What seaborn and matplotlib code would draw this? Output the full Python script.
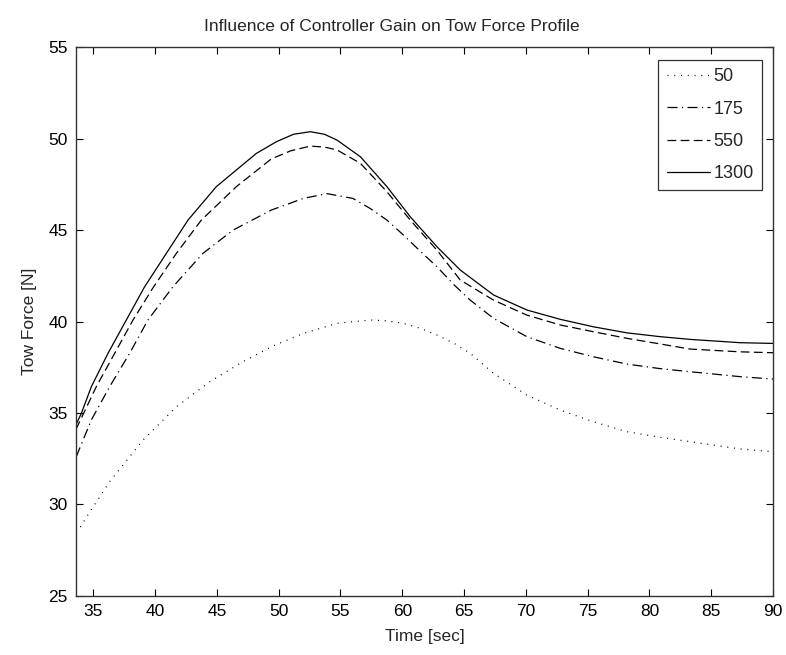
import matplotlib
matplotlib.use("Agg")
import matplotlib.pyplot as plt
import seaborn as sns
import pandas as pd

# ---- data ----
gains = ["50", "175", "550", "1300"]

t_50 = [33.95, 34.5, 36.32, 39.02, 41.72, 44.41, 47.11, 49.5, 52.0, 54.72, 57.4, 58.76,
        60.1, 61.5, 62.8, 64.2, 65.5, 67.39, 70.08, 72.78, 75.47, 78.17, 80.87, 83.31,
        87.35, 90.0]
f_50 = [28.75, 29.35, 31.23, 33.51, 35.33, 36.70, 37.80, 38.65, 39.35, 39.9, 40.08, 40.04,
        39.9, 39.62, 39.26, 38.8, 38.26, 37.16, 35.97, 35.15, 34.51, 33.97, 33.66, 33.42,
        33.02, 32.87]

t_175 = [33.62, 34.84, 36.32, 37.94, 39.42, 41.44, 43.87, 46.30, 49.4, 52.0, 53.9, 56.0,
         57.4, 58.76, 60.1, 61.5, 62.8, 64.2, 65.5, 67.39, 70.08, 72.78, 75.47, 78.17,
         80.87, 83.31, 87.35, 90.0]
f_175 = [32.6, 34.61, 36.43, 38.26, 40.08, 41.90, 43.73, 45.0, 46.1, 46.74, 47.0, 46.74,
         46.19, 45.55, 44.73, 43.82, 43.0, 42.0, 41.17, 40.17, 39.17, 38.53, 38.07, 37.67,
         37.42, 37.25, 36.98, 36.85]

t_550 = [33.6, 35.24, 36.73, 38.21, 39.88, 41.72, 43.74, 46.57, 49.4, 51.0, 52.56, 53.7,
         54.72, 56.61, 58.76, 60.65, 62.81, 64.69, 67.39, 70.08, 72.78, 75.47, 78.17,
         80.87, 83.31, 87.35, 90.0]
f_550 = [34.1, 36.43, 38.26, 40.08, 41.90, 43.73, 45.55, 47.38, 48.9, 49.35, 49.6, 49.55,
         49.39, 48.66, 47.1, 45.55, 43.9, 42.27, 41.17, 40.35, 39.81, 39.44, 39.08,
         38.77, 38.49, 38.34, 38.29]

t_1300 = [33.6, 34.03, 34.84, 36.19, 37.67, 39.15, 40.91, 42.66, 44.95, 48.19, 49.81, 51.2,
          52.56, 53.7, 54.72, 56.61, 58.76, 60.65, 62.81, 64.69, 67.39, 70.08, 72.78,
          75.47, 78.17, 80.87, 83.31, 87.35, 90.0]
f_1300 = [34.35, 34.97, 36.43, 38.26, 40.08, 41.90, 43.73, 45.55, 47.38, 49.20, 49.84, 50.25,
          50.39, 50.25, 49.93, 49.02, 47.38, 45.73, 44.09, 42.82, 41.45, 40.63, 40.12,
          39.71, 39.38, 39.17, 39.02, 38.84, 38.8]

x_ticks = [35, 40, 45, 50, 55, 60, 65, 70, 75, 80, 85, 90]
y_ticks = [25, 30, 35, 40, 45, 50, 55]

series = {"50": (t_50, f_50), "175": (t_175, f_175),
          "550": (t_550, f_550), "1300": (t_1300, f_1300)}

# ---- styling ----
sns.set_theme(style="ticks")
plt.rcParams["font.family"] = ["Liberation Sans", "DejaVu Sans"]
FS = 12.5
plt.rcParams["font.size"] = FS

dash_styles = {
    "50": (0, (0.8, 4.6)),
    "175": (0, (8, 3.5, 1, 3.5)),
    "550": (0, (7, 3.5)),
    "1300": "-",
}

fig = plt.figure(figsize=(7.86, 6.55), dpi=100)
ax = fig.add_axes([0.0967, 0.0908, 0.8868, 0.8367])

for g in gains:
    t, f = series[g]
    df = pd.DataFrame({"Time": t, "Force": f})
    sns.lineplot(data=df, x="Time", y="Force", ax=ax, color="black",
                 linestyle=dash_styles[g], linewidth=0.9, label=g,
                 sort=False, estimator=None)

ax.set_xlim(33.6, 90)
ax.set_ylim(25, 55)
ax.set_xticks(x_ticks)
ax.set_yticks(y_ticks)
ax.tick_params(direction="in", length=5, width=0.8, top=True, right=True,
               labelsize=FS, colors="black", pad=6)
for s in ax.spines.values():
    s.set_visible(True)
    s.set_color("#333333")
    s.set_linewidth(1.0)

ax.set_xlabel("Time [sec]", fontsize=FS, labelpad=7)
ax.set_ylabel("Tow Force [N]", fontsize=FS, labelpad=8)
ax.set_title("Influence of Controller Gain on Tow Force Profile", fontsize=FS, pad=12,
             x=0.453)

leg = ax.legend(loc="upper right", bbox_to_anchor=(0.984, 0.977), borderaxespad=0,
                fancybox=False, framealpha=1, edgecolor="#333333", fontsize=13,
                handlelength=2.4, labelspacing=0.85, handletextpad=0.2,
                borderpad=0.45)
leg.get_frame().set_linewidth(0.9)

fig.savefig("out.png", dpi=100)
